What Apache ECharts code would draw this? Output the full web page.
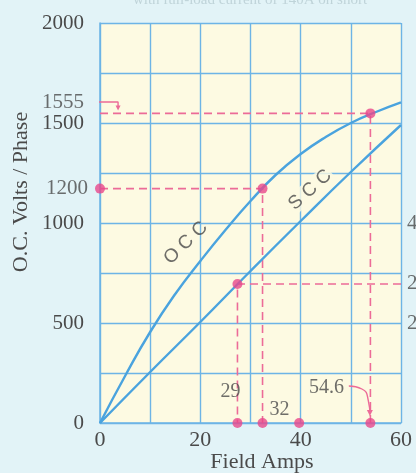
<!DOCTYPE html>
<html><head><meta charset="utf-8">
<script src="https://cdn.jsdelivr.net/npm/echarts@6/dist/echarts.min.js"></script>
<style>html,body{margin:0;padding:0;background:#e2f3f7}#c{width:416px;height:473px}</style>
</head><body><div id="c"></div>
<script>
// ---- data ----
const xTickLabels = [0, 20, 40, 60];
const yTickLabels = [0, 500, 1000, 1500, 2000];
const occAmps  = [0, 5, 10, 15, 20, 25, 30, 35, 40, 45, 50, 55, 60];
const occVolts = [0, 235, 455, 645, 810, 965, 1110, 1240, 1345, 1430, 1500, 1555, 1603];
const sccAmps  = [0, 10, 20, 30, 40, 50, 60];
const sccVolts = [0, 255, 505, 760, 1010, 1255, 1490];
const markAmps   = [27.4, 32.4, 53.9];       // marked operating points (field amps, as drawn)
const markVolts  = [695, 1172, 1548];
const markLabels = ['29', '32', '54.6'];
const dashStartAmps = [60, 0, 0];            // where each horizontal dashed run starts
const extraAxisDotAmps = [39.7];
const yExtraLabels = ['1200', '1555'];
const yExtraVolts = [1172, 1605];
const rightLabels = ['400', '280', '200'];
const rightLabelVolts = [1000, 700, 500];
const curveNames = ['O C C', 'S C C'];

// ---- styles ----
const BLUE = '#4aa3de', GRIDC = '#6db4e6', PINK = '#e9478b', PINKD = '#ec6b98';
const TXT = '#4a4a4a', SERIF = '"Liberation Serif","DejaVu Serif",serif';

const zip = (a, b) => a.map((v, i) => [v, b[i]]);
const dashSeries = markAmps.map((a, i) => ({
  type: 'line', symbol: 'none', silent: true, z: 3,
  lineStyle: { color: PINKD, width: 1.6, type: [8, 5] },
  data: [[dashStartAmps[i], markVolts[i]], [a, markVolts[i]], [a, 0]]
}));

const dotData = [];
markAmps.forEach((a, i) => { dotData.push([a, markVolts[i]]); });
dotData.push([0, yExtraVolts[0]]);
extraAxisDotAmps.forEach(a => dotData.push([a, 0]));

const labelOffsets = [[-7, -31], [17, -13], [-44, -35]];
const bottomDots = markAmps.map((a, i) => ({
  value: [a, 0],
  label: { show: true, position: 'inside', offset: labelOffsets[i], formatter: markLabels[i],
           color: TXT, fontFamily: SERIF, fontSize: 20 }
}));

const option = {
  backgroundColor: '#e2f3f7',
  animation: false,
  grid: { left: 100, right: 15, top: 23, bottom: 50, show: true, backgroundColor: '#fdfae2', borderWidth: 0 },
  xAxis: {
    type: 'value', min: 0, max: 60, interval: 10,
    axisLine: { show: true, lineStyle: { color: GRIDC, width: 1.5 } },
    axisTick: { show: false },
    splitLine: { show: true, lineStyle: { color: GRIDC, width: 1.4 } },
    axisLabel: { margin: 6, color: TXT, fontFamily: SERIF, fontSize: 22,
      formatter: v => xTickLabels.includes(v) ? String(v) : '' }
  },
  yAxis: {
    type: 'value', min: 0, max: 2000, interval: 250,
    axisLine: { show: true, lineStyle: { color: GRIDC, width: 1.5 } },
    axisTick: { show: false },
    splitLine: { show: true, lineStyle: { color: GRIDC, width: 1.4 } },
    axisLabel: { margin: 16, color: TXT, fontFamily: SERIF, fontSize: 21,
      formatter: v => yTickLabels.includes(v) ? String(v) : '' }
  },
  graphic: [
    { type: 'text', x: 21, y: 192, rotation: Math.PI / 2,
      style: { text: 'O.C. Volts / Phase', fill: TXT, font: '22px ' + SERIF, textAlign: 'center', textVerticalAlign: 'middle' } },
    { type: 'text', x: 262, y: 462,
      style: { text: 'Field Amps', fill: TXT, font: '22px ' + SERIF, textAlign: 'center', textVerticalAlign: 'middle' } },
    { type: 'text', x: 250, y: 0,
      style: { text: 'with full-load current of 140A on short', fill: 'rgba(140,165,172,0.4)', font: '15px ' + SERIF, textAlign: 'center', textVerticalAlign: 'middle' } }
  ],
  series: [
    { name: 'OCC', type: 'line', smooth: 0.5, symbol: 'none', z: 4,
      lineStyle: { color: BLUE, width: 2.4 }, data: zip(occAmps, occVolts) },
    { name: 'SCC', type: 'line', smooth: 0.5, symbol: 'none', z: 4,
      lineStyle: { color: BLUE, width: 2.4 }, data: zip(sccAmps, sccVolts) },
    ...dashSeries,
    // connector from "1555" label down to its dashed line
    { type: 'line', clip: false, z: 3, silent: true, showSymbol: true,
      lineStyle: { color: PINKD, width: 1.4 },
      data: [ { value: [-1.6, 1605], symbol: 'none' }, { value: [3.6, 1605], symbol: 'none' },
              { value: [3.6, 1575], symbol: 'triangle', symbolRotate: 180, symbolSize: 5, itemStyle: { color: PINKD } } ] },
    // curved arrow from "54.6" label to its axis dot
    { type: 'line', clip: false, z: 3, silent: true, smooth: 0.6, showSymbol: true,
      lineStyle: { color: PINKD, width: 1.4 },
      data: [ { value: [49.6, 185], symbol: 'none' }, { value: [52.2, 170], symbol: 'none' },
              { value: [53.5, 110], symbol: 'none' },
              { value: [53.8, 50], symbol: 'triangle', symbolRotate: 180, symbolSize: 6, itemStyle: { color: PINKD } } ] },
    { type: 'scatter', symbolSize: 10, z: 6, itemStyle: { color: PINK }, data: dotData },
    { type: 'scatter', symbolSize: 10, z: 6, itemStyle: { color: PINK }, data: bottomDots },
    // extra y labels 1200 / 1555
    { type: 'scatter', symbolSize: 0, z: 6, data: yExtraVolts.map((v, i) => ({
        value: [0, v],
        label: { show: true, position: 'left', distance: i === 0 ? 12 : 16, formatter: yExtraLabels[i],
                 color: TXT, fontFamily: SERIF, fontSize: 21 } })) },
    // right-hand (cut-off) current axis labels
    { type: 'scatter', symbolSize: 0, z: 6, data: rightLabelVolts.map((v, i) => ({
        value: [60, v],
        label: { show: true, position: 'right', distance: 6, formatter: rightLabels[i],
                 color: TXT, fontFamily: SERIF, fontSize: 21 } })) },
    // curve names
    { type: 'scatter', symbolSize: 0, z: 7, data: [
        { value: [17.1, 900], label: { show: true, position: 'inside', rotate: 44, formatter: curveNames[0],
          color: TXT, fontFamily: '"Liberation Sans",sans-serif', fontSize: 19 } },
        { value: [41.9, 1165], label: { show: true, position: 'inside', rotate: 42, formatter: curveNames[1],
          color: TXT, fontFamily: '"Liberation Sans",sans-serif', fontSize: 19,
          backgroundColor: '#fdfae2', padding: [0, 2] } } ] }
  ]
};
echarts.init(document.getElementById('c')).setOption(option);
</script></body></html>
